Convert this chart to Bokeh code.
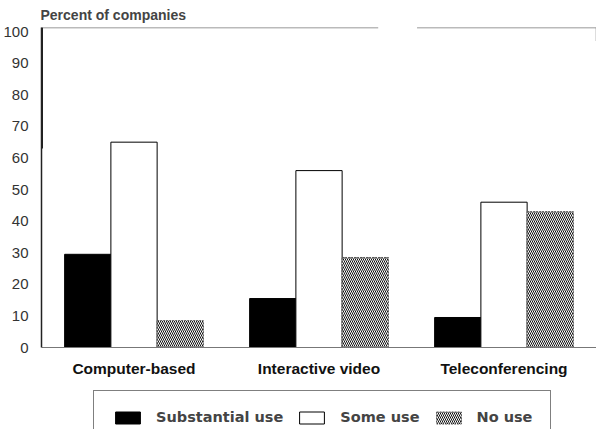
from bokeh.plotting import figure
from bokeh.models import (FactorRange, Range1d, FixedTicker, Legend, LegendItem,
                          ColumnDataSource)
from bokeh.transform import dodge
from bokeh.embed import file_html
from bokeh.resources import INLINE

# ---- data ----
categories = ["Computer-based", "Interactive video", "Teleconferencing"]
substantial_use = [29.5, 15.5, 9.5]
some_use = [65, 56, 46]
no_use = [8.5, 28.5, 43]
y_ticks = [0, 10, 20, 30, 40, 50, 60, 70, 80, 90, 100]
series_labels = ["Substantial use", "Some use", "No use"]

FONT = "Liberation Sans"

source = ColumnDataSource(dict(cat=categories, sub=substantial_use,
                               some=some_use, none=no_use))

Y_TOP = 101.3
# frame: 320px from top to value 0, 82px more below 0 (room for labels/legend)
Y_BOTTOM = -Y_TOP * 82 / 320

p = figure(width=596, height=429, output_backend="svg", toolbar_location=None,
           x_range=FactorRange(factors=categories, range_padding=0),
           y_range=Range1d(Y_BOTTOM, Y_TOP),
           min_border_left=35, min_border_right=0, min_border_top=27,
           min_border_bottom=0)
p.outline_line_color = None
p.xgrid.visible = False
p.ygrid.visible = False

p.title.text = "Percent  of  companies"
p.title.align = "left"
p.title.text_font = FONT
p.title.text_font_style = "bold"
p.title.text_font_size = "14px"
p.title.standoff = 9
p.title.offset = -1

# y axis
p.yaxis.ticker = FixedTicker(ticks=y_ticks)
p.yaxis.bounds = (0, Y_TOP)
p.yaxis.major_tick_line_color = None
p.yaxis.minor_tick_line_color = None
p.yaxis.major_label_standoff = 7
p.yaxis.major_label_text_font = FONT
p.yaxis.major_label_text_font_size = "15px"
p.yaxis.major_label_text_color = "#333333"
p.yaxis.axis_line_color = "#222222"
p.yaxis.axis_line_width = 1.5

# x axis, drawn at value 0
p.xaxis.fixed_location = 0
p.xaxis.major_tick_line_color = None
p.xaxis.minor_tick_line_color = None
p.xaxis.major_label_standoff = 6
p.xaxis.major_label_text_font = FONT
p.xaxis.major_label_text_font_style = "bold"
p.xaxis.major_label_text_font_size = "15.5px"
p.xaxis.major_label_text_color = "#111111"
p.xaxis.axis_line_color = "#777777"
p.xaxis.axis_line_width = 1

# decorative frame pieces (top border with a gap, right tick, thick upper axis)
p.segment(x0=[0, 2.03], y0=[Y_TOP, Y_TOP], x1=[1.82, 3.0], y1=[Y_TOP, Y_TOP],
          line_color="#777777", line_width=1.5)
p.segment(x0=[3.0], y0=[Y_TOP], x1=[3.0], y1=[97], line_color="#777777",
          line_width=1.5)
p.segment(x0=[0], y0=[63], x1=[0], y1=[Y_TOP], line_color="#222222",
          line_width=3)

w = 0.25
r1 = p.vbar(x=dodge("cat", -0.25, range=p.x_range), top="sub", width=w,
            source=source, fill_color="black", line_color="black")
r2 = p.vbar(x=dodge("cat", 0.0, range=p.x_range), top="some", width=w,
            source=source, fill_color="white", line_color="black", line_width=1)
r3 = p.vbar(x=dodge("cat", 0.25, range=p.x_range), top="none", width=w,
            source=source, fill_color="white", hatch_pattern="\\",
            hatch_scale=4, hatch_weight=1, hatch_color="#111111",
            line_color="#555555", line_dash="2 1", line_width=1)

legend = Legend(items=[LegendItem(label=series_labels[0], renderers=[r1]),
                       LegendItem(label=series_labels[1], renderers=[r2]),
                       LegendItem(label=series_labels[2], renderers=[r3])],
                location=(52, -15), orientation="horizontal",
                glyph_width=31, glyph_height=15, label_standoff=13,
                spacing=13, padding=18, margin=0, label_height=16,
                border_line_color="black", border_line_width=1,
                label_text_font="DejaVu Sans", label_text_font_style="bold",
                label_text_font_size="14.5px", background_fill_color="white")
p.add_layout(legend)

open("out.html", "w").write(file_html(p, INLINE))
